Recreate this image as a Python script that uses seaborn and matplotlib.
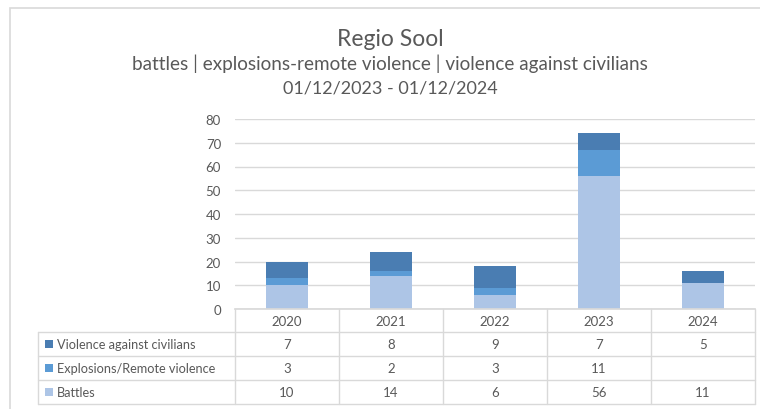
import seaborn as sns
import pandas as pd
import matplotlib.pyplot as plt
import matplotlib.transforms as mtrans
from matplotlib.lines import Line2D
from matplotlib.patches import Rectangle

# chart data
years = [2020, 2021, 2022, 2023, 2024]
battles = [10, 14, 6, 56, 11]
explosions = [3, 2, 3, 11, 0]
violence = [7, 8, 9, 7, 5]

# top-to-bottom order as in the data table
series_names = ["Violence against civilians", "Explosions/Remote violence", "Battles"]
series_values = [violence, explosions, battles]
colors = ["#4A7DB2", "#5B9BD5", "#ADC5E6"]

rows = []
for name, vals in zip(series_names, series_values):
    for yr, v in zip(years, vals):
        rows.append({"year": yr, "type": name, "count": v})
df = pd.DataFrame(rows)

sns.set_theme(style="white")
plt.rcParams["font.family"] = ["Lato", "DejaVu Sans"]
grey = "#595959"
line_grey = "#D9D9D9"

W, H = 760, 410
fig = plt.figure(figsize=(7.6, 4.1), dpi=100)

def fx(px):
    return px / W

def fy(py):
    return 1 - py / H

# outer chart frame
fig.add_artist(Rectangle((fx(10), fy(430)), fx(780) - fx(10), fy(9) - fy(430),
                         transform=fig.transFigure, fill=False, edgecolor=line_grey, lw=1.2))

ax = fig.add_axes([fx(235), fy(310), fx(755) - fx(235), fy(120) - fy(310)])
sns.histplot(data=df, x="year", weights="count", hue="type", hue_order=series_names,
             multiple="stack", discrete=True, shrink=0.4, palette=colors,
             linewidth=0, alpha=1, legend=False, ax=ax)
ax.set_xlim(2019.5, 2024.5)
ax.set_ylim(0, 80)
ax.set_yticks(range(0, 81, 10))
ax.yaxis.grid(True, color=line_grey, lw=1)
ax.set_axisbelow(True)
for s in ["left", "right", "top"]:
    ax.spines[s].set_visible(False)
ax.spines["bottom"].set_color(line_grey)
ax.set_xticks([])
ax.set_xlabel("")
ax.set_ylabel("")
ax.tick_params(axis="y", length=0, pad=10, labelsize=9.5, labelcolor=grey)

# titles
cx = fx(390)
fig.text(cx, fy(40), "Regio Sool", ha="center", va="center", fontsize=16.5, color=grey)
fig.text(cx, fy(64), "battles | explosions-remote violence | violence against civilians",
         ha="center", va="center", fontsize=13.6, color=grey)
fig.text(cx, fy(88), "01/12/2023 - 01/12/2024", ha="center", va="center",
         fontsize=13, color=grey)

# data table below the axis
trans = mtrans.blended_transform_factory(ax.transData, fig.transFigure)
row_y = [333, 357, 381, 405]
for yr in years + [years[-1] + 1]:
    fig.add_artist(Line2D([yr - 0.5, yr - 0.5], [fy(310), fy(405)], transform=trans,
                          color=line_grey, lw=1))
for py in row_y:
    fig.add_artist(Line2D([fx(38), fx(755)], [fy(py), fy(py)], transform=fig.transFigure,
                          color=line_grey, lw=1))
fig.add_artist(Line2D([fx(38), fx(38)], [fy(333), fy(405)], transform=fig.transFigure,
                      color=line_grey, lw=1))

for yr in years:
    fig.text(yr, fy(321.5), str(yr), transform=trans, ha="center", va="center",
             fontsize=9.5, color=grey)

for i, (name, vals, col) in enumerate(zip(series_names, series_values, colors)):
    yc = (row_y[i] + row_y[i + 1]) / 2
    fig.add_artist(Rectangle((fx(45), fy(yc + 4)), fx(8), fy(0) - fy(8),
                             transform=fig.transFigure, facecolor=col, edgecolor="none"))
    fig.text(fx(57), fy(yc), name, ha="left", va="center", fontsize=9.2, color=grey)
    for yr, v in zip(years, vals):
        if v:
            fig.text(yr, fy(yc), str(v), transform=trans, ha="center", va="center",
                     fontsize=9.5, color=grey)

plt.savefig("out.png", dpi=100)
